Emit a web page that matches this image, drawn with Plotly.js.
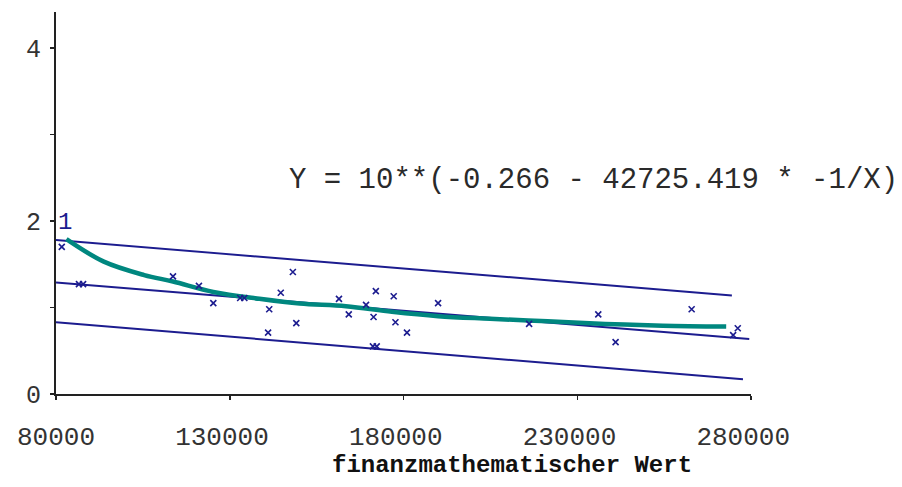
<!DOCTYPE html>
<html>
<head>
<meta charset="utf-8">
<script src="https://cdn.plot.ly/plotly-3.0.1.min.js"></script>
<style>
html,body{margin:0;padding:0;background:#fff;}
#chart{width:902px;height:487px;}
</style>
</head>
<body>
<div id="chart"></div>
<script>
// Observed data points
const obsX = [81660, 86600, 87800, 113670, 121130, 125270, 133000, 134200, 141360, 144680, 148160, 141030, 149150, 161430, 164250, 169220, 171380, 172040, 177180, 177680, 181000, 171200, 172300, 189950, 216150, 236050, 241030, 262920, 276190, 274860];
const obsY = [1.70, 1.27, 1.27, 1.36, 1.25, 1.05, 1.11, 1.11, 0.98, 1.17, 1.41, 0.71, 0.82, 1.10, 0.92, 1.03, 0.89, 1.19, 1.13, 0.83, 0.71, 0.55, 0.55, 1.05, 0.81, 0.92, 0.60, 0.98, 0.76, 0.68];

// Fitted curve
const fitX = [82990, 93760, 105370, 113670, 125270, 138540, 150150, 163420, 176680, 189950, 204880, 221460, 238040, 254620, 272860];
const fitY = [1.79, 1.53, 1.375, 1.30, 1.18, 1.10, 1.045, 1.015, 0.95, 0.90, 0.87, 0.84, 0.81, 0.79, 0.78];

// Band lines
const upperX = [80000, 274500];
const upperY = [1.78, 1.14];
const midX = [80000, 279500];
const midY = [1.29, 0.635];
const lowerX = [80000, 277700];
const lowerY = [0.83, 0.17];

const xTickVals = [80000, 130000, 180000, 230000, 280000];
const xTickText = ['80000', '130000\u00a0', '180000\u00a0', '230000\u00a0', '280000\u00a0'];
const yTickVals = [0, 1, 2, 3, 4];
const yTickText = ['0', '', '2', '', '4'];

const equationText = 'Y = 10**(-0.266 - 42725.419 * -1/X)';
const xTitleText = 'finanzmathematischer Wert';
const pointLabel = '1';

const navy = '#1c1c8f';
const teal = '#00877f';
const mono = '"Liberation Mono", "DejaVu Sans Mono", monospace';

const traces = [
  {x: upperX, y: upperY, mode: 'lines', line: {color: navy, width: 2}, hoverinfo: 'skip'},
  {x: midX, y: midY, mode: 'lines', line: {color: navy, width: 2}, hoverinfo: 'skip'},
  {x: lowerX, y: lowerY, mode: 'lines', line: {color: navy, width: 2}, hoverinfo: 'skip'},
  {x: fitX, y: fitY, mode: 'lines', line: {color: teal, width: 4.5, shape: 'spline'}, hoverinfo: 'skip'},
  {x: obsX, y: obsY, mode: 'markers',
   marker: {symbol: 'x-thin', size: 6, color: navy, line: {color: navy, width: 1.6}}}
];

const layout = {
  width: 902, height: 487,
  margin: {l: 56, r: 151, t: 12, b: 93},
  paper_bgcolor: '#fff', plot_bgcolor: '#fff',
  showlegend: false,
  font: {family: mono, color: '#222'},
  xaxis: {
    range: [80000, 280000],
    tickvals: xTickVals, ticktext: xTickText,
    ticks: 'outside', ticklen: 4, tickwidth: 1.5, tickcolor: '#222',
    ticklabelstandoff: 14,
    showline: true, linecolor: '#222', linewidth: 2,
    showgrid: false, zeroline: false,
    tickfont: {family: mono, size: 26, color: '#333'},
    automargin: false
  },
  yaxis: {
    range: [0, 4.416],
    tickvals: yTickVals, ticktext: yTickText,
    ticks: 'outside', ticklen: 4, tickwidth: 1.5, tickcolor: '#222',
    ticklabelstandoff: 4,
    showline: true, linecolor: '#222', linewidth: 2,
    showgrid: false, zeroline: false,
    tickfont: {family: mono, size: 25, color: '#333'},
    automargin: false
  },
  annotations: [
    {text: equationText, xref: 'paper', yref: 'paper', x: 1.215, y: 0.56,
     xanchor: 'right', yanchor: 'middle', showarrow: false,
     font: {family: mono, size: 29, color: '#2a2a2a'}},
    {text: '<b>' + xTitleText + '</b>', xref: 'paper', yref: 'paper', x: 0.656, y: -0.186,
     xanchor: 'center', yanchor: 'middle', showarrow: false,
     font: {family: mono, size: 24, color: '#111'}},
    {text: pointLabel, xref: 'x', yref: 'y', x: 82700, y: 1.98,
     xanchor: 'center', yanchor: 'middle', showarrow: false,
     font: {family: mono, size: 24, color: navy}}
  ]
};

Plotly.newPlot('chart', traces, layout, {displayModeBar: false, staticPlot: true});
</script>
</body>
</html>
